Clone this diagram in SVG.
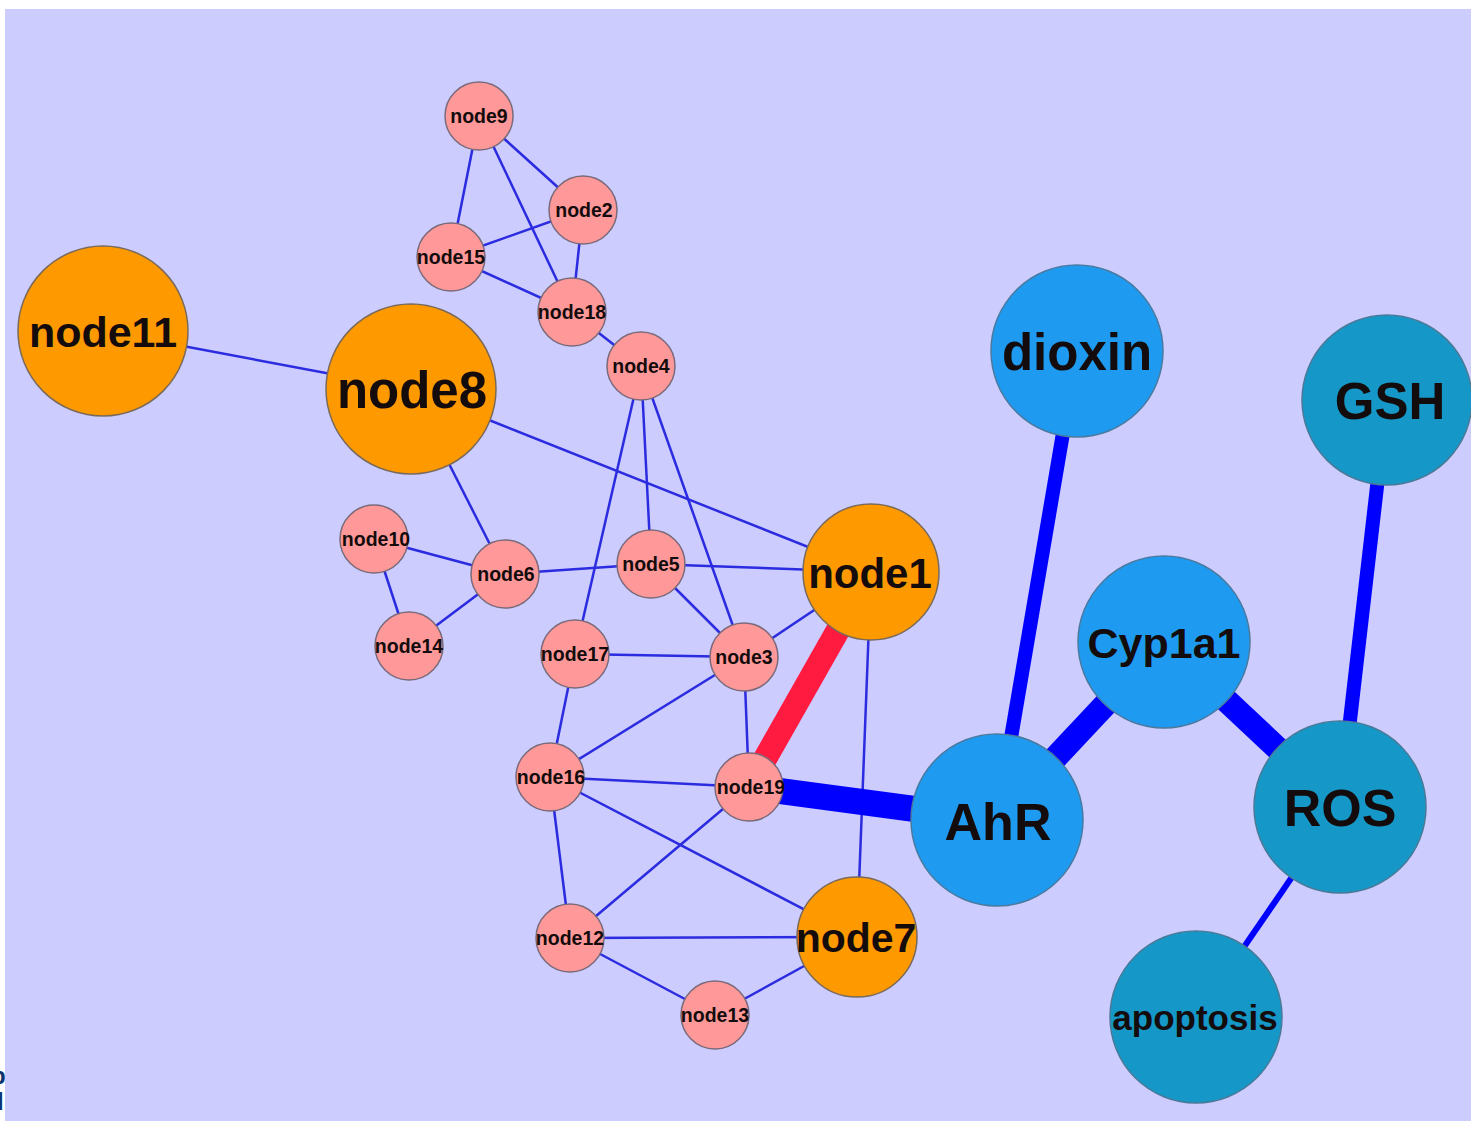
<svg xmlns="http://www.w3.org/2000/svg" width="1471" height="1121" viewBox="0 0 1471 1121">
  <style>
    .lbl { font-family: "Liberation Sans", Arial, sans-serif; font-weight: bold; fill: #140c0c; text-anchor: middle; }
    .s { font-size: 19.5px; }
    .pink { fill: #ff9999; stroke: #7a6a7a; stroke-width: 1.5; }
    .orange { fill: #ff9900; stroke: #7a6a5a; stroke-width: 1.5; }
    .sky { fill: #1e9bf0; stroke: #4a7aa0; stroke-width: 1.5; }
    .teal { fill: #1598c8; stroke: #4a7a98; stroke-width: 1.5; }
    .thin line { stroke: #2b2be0; stroke-width: 2.5; }
    .thick { stroke: #0000ff; }
  </style>

  <!-- page margin and clipped caption letters at the lower left -->
  <rect x="0" y="0" width="1471" height="1121" fill="#ffffff"/>
  <text x="-9" y="1084" font-family="Liberation Sans, Arial, sans-serif" font-weight="bold" font-size="24" fill="#0b3570">p</text>
  <text x="-3" y="1110" font-family="Liberation Sans, Arial, sans-serif" font-weight="bold" font-size="24" fill="#0b3570">l</text>
  <rect x="5" y="9" width="1466" height="1112" fill="#ccccff"/>

  <g id="connectors">
    <g class="thin">
      <line x1="479" y1="116" x2="451" y2="257"/>
      <line x1="479" y1="116" x2="583" y2="210"/>
      <line x1="479" y1="116" x2="572" y2="312"/>
      <line x1="583" y1="210" x2="451" y2="257"/>
      <line x1="583" y1="210" x2="572" y2="312"/>
      <line x1="451" y1="257" x2="572" y2="312"/>
      <line x1="572" y1="312" x2="641" y2="366"/>
      <line x1="103" y1="331" x2="411" y2="389"/>
      <line x1="411" y1="389" x2="871" y2="572"/>
      <line x1="411" y1="389" x2="505" y2="574"/>
      <line x1="641" y1="366" x2="575" y2="654"/>
      <line x1="641" y1="366" x2="651" y2="564"/>
      <line x1="641" y1="366" x2="744" y2="657"/>
      <line x1="374" y1="539" x2="505" y2="574"/>
      <line x1="374" y1="539" x2="409" y2="646"/>
      <line x1="409" y1="646" x2="505" y2="574"/>
      <line x1="505" y1="574" x2="651" y2="564"/>
      <line x1="651" y1="564" x2="871" y2="572"/>
      <line x1="651" y1="564" x2="744" y2="657"/>
      <line x1="575" y1="654" x2="744" y2="657"/>
      <line x1="575" y1="654" x2="550" y2="777"/>
      <line x1="744" y1="657" x2="871" y2="572"/>
      <line x1="744" y1="657" x2="550" y2="777"/>
      <line x1="744" y1="657" x2="749" y2="787"/>
      <line x1="550" y1="777" x2="749" y2="787"/>
      <line x1="550" y1="777" x2="570" y2="938"/>
      <line x1="550" y1="777" x2="857" y2="937"/>
      <line x1="749" y1="787" x2="570" y2="938"/>
      <line x1="570" y1="938" x2="857" y2="937"/>
      <line x1="570" y1="938" x2="715" y2="1015"/>
      <line x1="715" y1="1015" x2="857" y2="937"/>
      <line x1="871" y1="572" x2="857" y2="937"/>
    </g>
    <line x1="871" y1="572" x2="749" y2="787" stroke="#ff1a40" stroke-width="24"/>
    <line class="thick" x1="749" y1="787" x2="997" y2="820" stroke-width="26"/>
    <line class="thick" x1="1077" y1="351" x2="997" y2="820" stroke-width="14"/>
    <line class="thick" x1="997" y1="820" x2="1164" y2="642" stroke-width="24"/>
    <line class="thick" x1="1164" y1="642" x2="1340" y2="807" stroke-width="24"/>
    <line class="thick" x1="1387" y1="400" x2="1340" y2="807" stroke-width="14"/>
    <line class="thick" x1="1340" y1="807" x2="1196" y2="1017" stroke-width="6"/>
  </g>

  <g id="node9"><circle class="pink" cx="479" cy="116" r="34"/><text class="lbl s" x="479" y="123">node9</text></g>
  <g id="node2"><circle class="pink" cx="583" cy="210" r="34"/><text class="lbl s" x="584" y="217">node2</text></g>
  <g id="node15"><circle class="pink" cx="451" cy="257" r="34"/><text class="lbl s" x="451" y="264">node15</text></g>
  <g id="node18"><circle class="pink" cx="572" cy="312" r="34"/><text class="lbl s" x="572" y="319">node18</text></g>
  <g id="node4"><circle class="pink" cx="641" cy="366" r="34"/><text class="lbl s" x="641" y="373">node4</text></g>
  <g id="node10"><circle class="pink" cx="374" cy="539" r="34"/><text class="lbl s" x="376" y="546">node10</text></g>
  <g id="node6"><circle class="pink" cx="505" cy="574" r="34"/><text class="lbl s" x="506" y="581">node6</text></g>
  <g id="node5"><circle class="pink" cx="651" cy="564" r="34"/><text class="lbl s" x="651" y="571">node5</text></g>
  <g id="node14"><circle class="pink" cx="409" cy="646" r="34"/><text class="lbl s" x="409" y="653">node14</text></g>
  <g id="node17"><circle class="pink" cx="575" cy="654" r="34"/><text class="lbl s" x="575" y="661">node17</text></g>
  <g id="node3"><circle class="pink" cx="744" cy="657" r="34"/><text class="lbl s" x="744" y="664">node3</text></g>
  <g id="node16"><circle class="pink" cx="550" cy="777" r="34"/><text class="lbl s" x="551" y="784">node16</text></g>
  <g id="node19"><circle class="pink" cx="749" cy="787" r="34"/><text class="lbl s" x="751" y="794">node19</text></g>
  <g id="node12"><circle class="pink" cx="570" cy="938" r="34"/><text class="lbl s" x="570" y="945">node12</text></g>
  <g id="node13"><circle class="pink" cx="715" cy="1015" r="34"/><text class="lbl s" x="715" y="1022">node13</text></g>

  <g id="node11"><circle class="orange" cx="103" cy="331" r="85"/><text class="lbl" x="103" y="347" font-size="43">node11</text></g>
  <g id="node8"><circle class="orange" cx="411" cy="389" r="85"/><text class="lbl" x="412" y="408" font-size="51">node8</text></g>
  <g id="node1"><circle class="orange" cx="871" cy="572" r="68"/><text class="lbl" x="870" y="588" font-size="42">node1</text></g>
  <g id="node7"><circle class="orange" cx="857" cy="937" r="60"/><text class="lbl" x="856" y="952" font-size="41">node7</text></g>

  <g id="dioxin"><circle class="sky" cx="1077" cy="351" r="86"/><text class="lbl" x="1077" y="370" font-size="51">dioxin</text></g>
  <g id="GSH"><circle class="teal" cx="1387" cy="400" r="85"/><text class="lbl" x="1390" y="419" font-size="51">GSH</text></g>
  <g id="Cyp1a1"><circle class="sky" cx="1164" cy="642" r="86"/><text class="lbl" x="1164" y="658" font-size="43">Cyp1a1</text></g>
  <g id="AhR"><circle class="sky" cx="997" cy="820" r="86"/><text class="lbl" x="998" y="840" font-size="52">AhR</text></g>
  <g id="ROS"><circle class="teal" cx="1340" cy="807" r="86"/><text class="lbl" x="1340" y="826" font-size="52">ROS</text></g>
  <g id="apoptosis"><circle class="teal" cx="1196" cy="1017" r="86"/><text class="lbl" x="1195" y="1030" font-size="35">apoptosis</text></g>
</svg>
